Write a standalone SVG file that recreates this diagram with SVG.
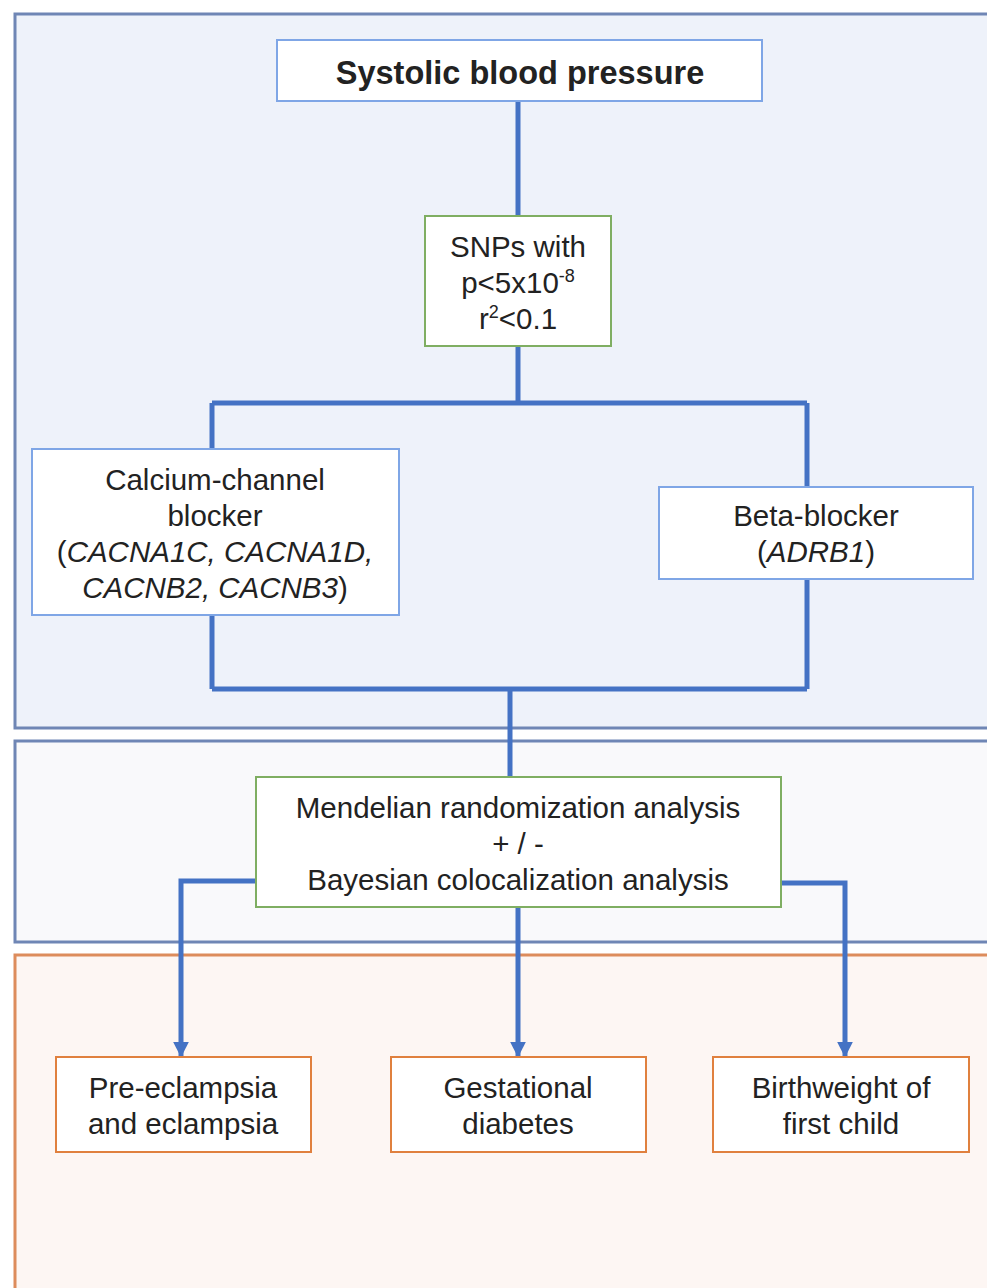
<svg xmlns="http://www.w3.org/2000/svg" width="987" height="1288" viewBox="0 0 987 1288">
<defs>
<style>
.t{font-family:"Liberation Sans",Arial,sans-serif;font-size:29.5px;fill:#222;text-anchor:middle}
.b{font-weight:bold;font-size:32.5px}
.i{font-style:italic}
.box{fill:#fff;stroke-width:2}
.blue{stroke:#7fa6e6}
.green{stroke:#7fae62}
.orange{stroke:#e0803e}
.c{fill:none;stroke:#4472c4;stroke-width:5}
</style>
<marker id="ah" viewBox="0 0 10 10" refX="9" refY="5" markerWidth="3.2" markerHeight="3.6" orient="auto" markerUnits="strokeWidth">
<path d="M0,0 L10,5 L0,10 z" fill="#4472c4"/>
</marker>
</defs>
<g id="panels">
<rect x="15" y="14" width="990" height="714" fill="#eef2fa" stroke="#6f86b5" stroke-width="3"/>
<rect x="15" y="741" width="990" height="201" fill="#f9f9fb" stroke="#6f86b5" stroke-width="3"/>
<rect x="15" y="955" width="990" height="360" fill="#fdf6f3" stroke="#dd8c5c" stroke-width="3"/>
</g>
<g id="connectors">
<path class="c" d="M518,101 V216"/>
<path class="c" d="M518,346 V403 M212,403 H807 M212,403 V449 M807,403 V487"/>
<path class="c" d="M212,615 V689 M807,579 V689 M212,689 H807 M510,689 V777"/>
<path class="c" d="M256,881 H181 V1056" marker-end="url(#ah)"/>
<path class="c" d="M518,907 V1056" marker-end="url(#ah)"/>
<path class="c" d="M781,883 H845 V1056" marker-end="url(#ah)"/>
</g>
<g id="sbp">
<rect class="box blue" x="277" y="40" width="485" height="61"/>
<text class="t b" x="520" y="84">Systolic blood pressure</text>
</g>
<g id="snps">
<rect class="box green" x="425" y="216" width="186" height="130"/>
<text class="t" x="518" y="257">SNPs with</text>
<text class="t" x="518" y="293">p&lt;5x10<tspan dy="-11" font-size="18">-8</tspan></text>
<text class="t" x="518" y="329">r<tspan dy="-11" font-size="18">2</tspan><tspan dy="11">&lt;0.1</tspan></text>
</g>
<g id="ccb">
<rect class="box blue" x="32" y="449" width="367" height="166"/>
<text class="t" x="215" y="490">Calcium-channel</text>
<text class="t" x="215" y="526">blocker</text>
<text class="t" x="215" y="562">(<tspan class="i">CACNA1C, CACNA1D,</tspan></text>
<text class="t" x="215" y="598"><tspan class="i">CACNB2, CACNB3</tspan>)</text>
</g>
<g id="bb">
<rect class="box blue" x="659" y="487" width="314" height="92"/>
<text class="t" x="816" y="526">Beta-blocker</text>
<text class="t" x="816" y="562">(<tspan class="i">ADRB1</tspan>)</text>
</g>
<g id="mr">
<rect class="box green" x="256" y="777" width="525" height="130"/>
<text class="t" x="518" y="818">Mendelian randomization analysis</text>
<text class="t" x="518" y="854">+ / -</text>
<text class="t" x="518" y="890">Bayesian colocalization analysis</text>
</g>
<g id="pe">
<rect class="box orange" x="56" y="1057" width="255" height="95"/>
<text class="t" x="183" y="1098">Pre-eclampsia</text>
<text class="t" x="183" y="1134">and eclampsia</text>
</g>
<g id="gd">
<rect class="box orange" x="391" y="1057" width="255" height="95"/>
<text class="t" x="518" y="1098">Gestational</text>
<text class="t" x="518" y="1134">diabetes</text>
</g>
<g id="bw">
<rect class="box orange" x="713" y="1057" width="256" height="95"/>
<text class="t" x="841" y="1098">Birthweight of</text>
<text class="t" x="841" y="1134">first child</text>
</g>
</svg>
